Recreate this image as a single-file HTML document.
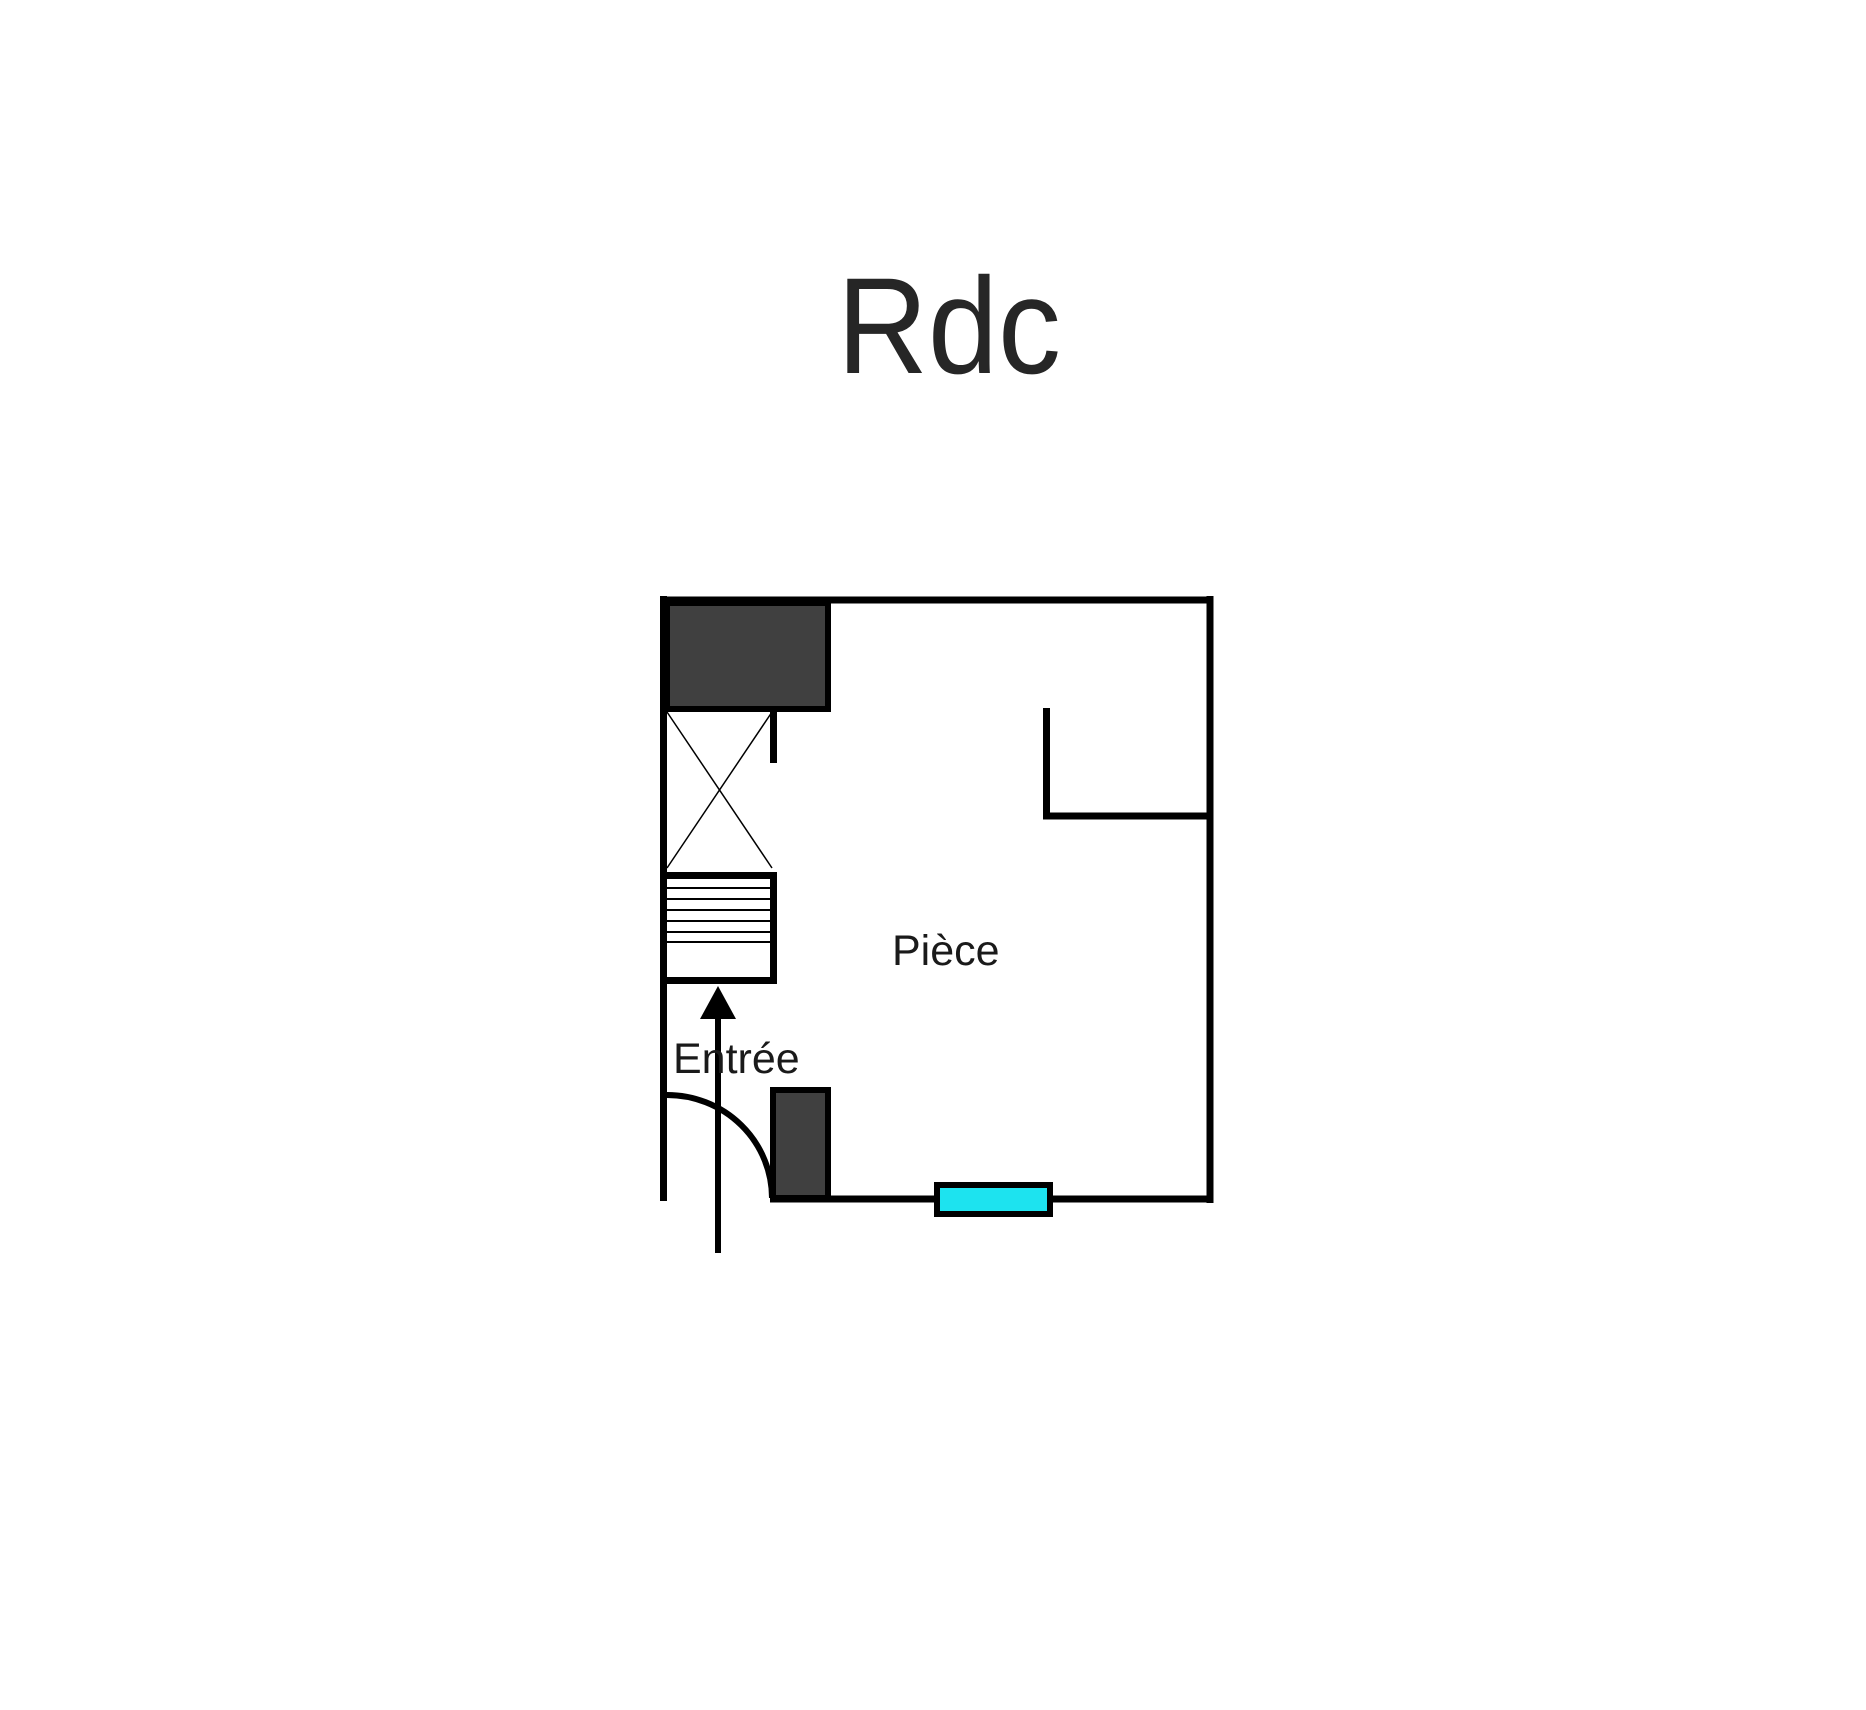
<!DOCTYPE html>
<html><head><meta charset="utf-8"><style>
html,body{margin:0;padding:0;background:#fff;}
</style></head><body>
<svg width="1866" height="1710" viewBox="0 0 1866 1710" xmlns="http://www.w3.org/2000/svg" style="display:block">
<rect width="1866" height="1710" fill="#fff"/>
<text x="837" y="373" font-family="Liberation Sans, sans-serif" font-size="137" fill="#262626" textLength="224" lengthAdjust="spacingAndGlyphs">Rdc</text>
<g stroke="#000" fill="none">
<line x1="663.5" y1="596" x2="663.5" y2="1201" stroke-width="7"/>
<line x1="660" y1="600" x2="1213" y2="600" stroke-width="7"/>
<line x1="1210" y1="596" x2="1210" y2="1203" stroke-width="7"/>
<line x1="770" y1="1199" x2="1213" y2="1199" stroke-width="7"/>
<polyline points="1046.5,708 1046.5,816 1210,816" stroke-width="7"/>
<line x1="773.5" y1="710" x2="773.5" y2="763" stroke-width="7"/>
<line x1="667" y1="712" x2="772" y2="868" stroke-width="1.5"/>
<line x1="772" y1="712" x2="667" y2="868" stroke-width="1.5"/>
<polyline points="667,875.5 773.5,875.5 773.5,980.5 667,980.5" stroke-width="7"/>
<g stroke-width="2">
<line x1="667" y1="888" x2="770" y2="888"/>
<line x1="667" y1="899" x2="770" y2="899"/>
<line x1="667" y1="910" x2="770" y2="910"/>
<line x1="667" y1="921" x2="770" y2="921"/>
<line x1="667" y1="932" x2="770" y2="932"/>
<line x1="667" y1="942" x2="770" y2="942"/>
</g>
<path d="M667,1095 A105,103 0 0 1 772,1198" stroke-width="6"/>
</g>
<rect x="667" y="603" width="161" height="106" fill="#404040" stroke="#000" stroke-width="6"/>
<rect x="773" y="1090" width="55" height="108" fill="#404040" stroke="#000" stroke-width="6"/>
<rect x="937" y="1185" width="113" height="29" fill="#1de3ef" stroke="#000" stroke-width="6"/>
<line x1="718" y1="1010" x2="718" y2="1253" stroke="#000" stroke-width="6"/>
<polygon points="718,986 700,1019 736,1019" fill="#000"/>
<text x="673" y="1073" font-family="Liberation Sans, sans-serif" font-size="43" fill="#1a1a1a">Entrée</text>
<text x="892" y="965" font-family="Liberation Sans, sans-serif" font-size="43" fill="#1a1a1a">Pièce</text>
</svg>
</body></html>
